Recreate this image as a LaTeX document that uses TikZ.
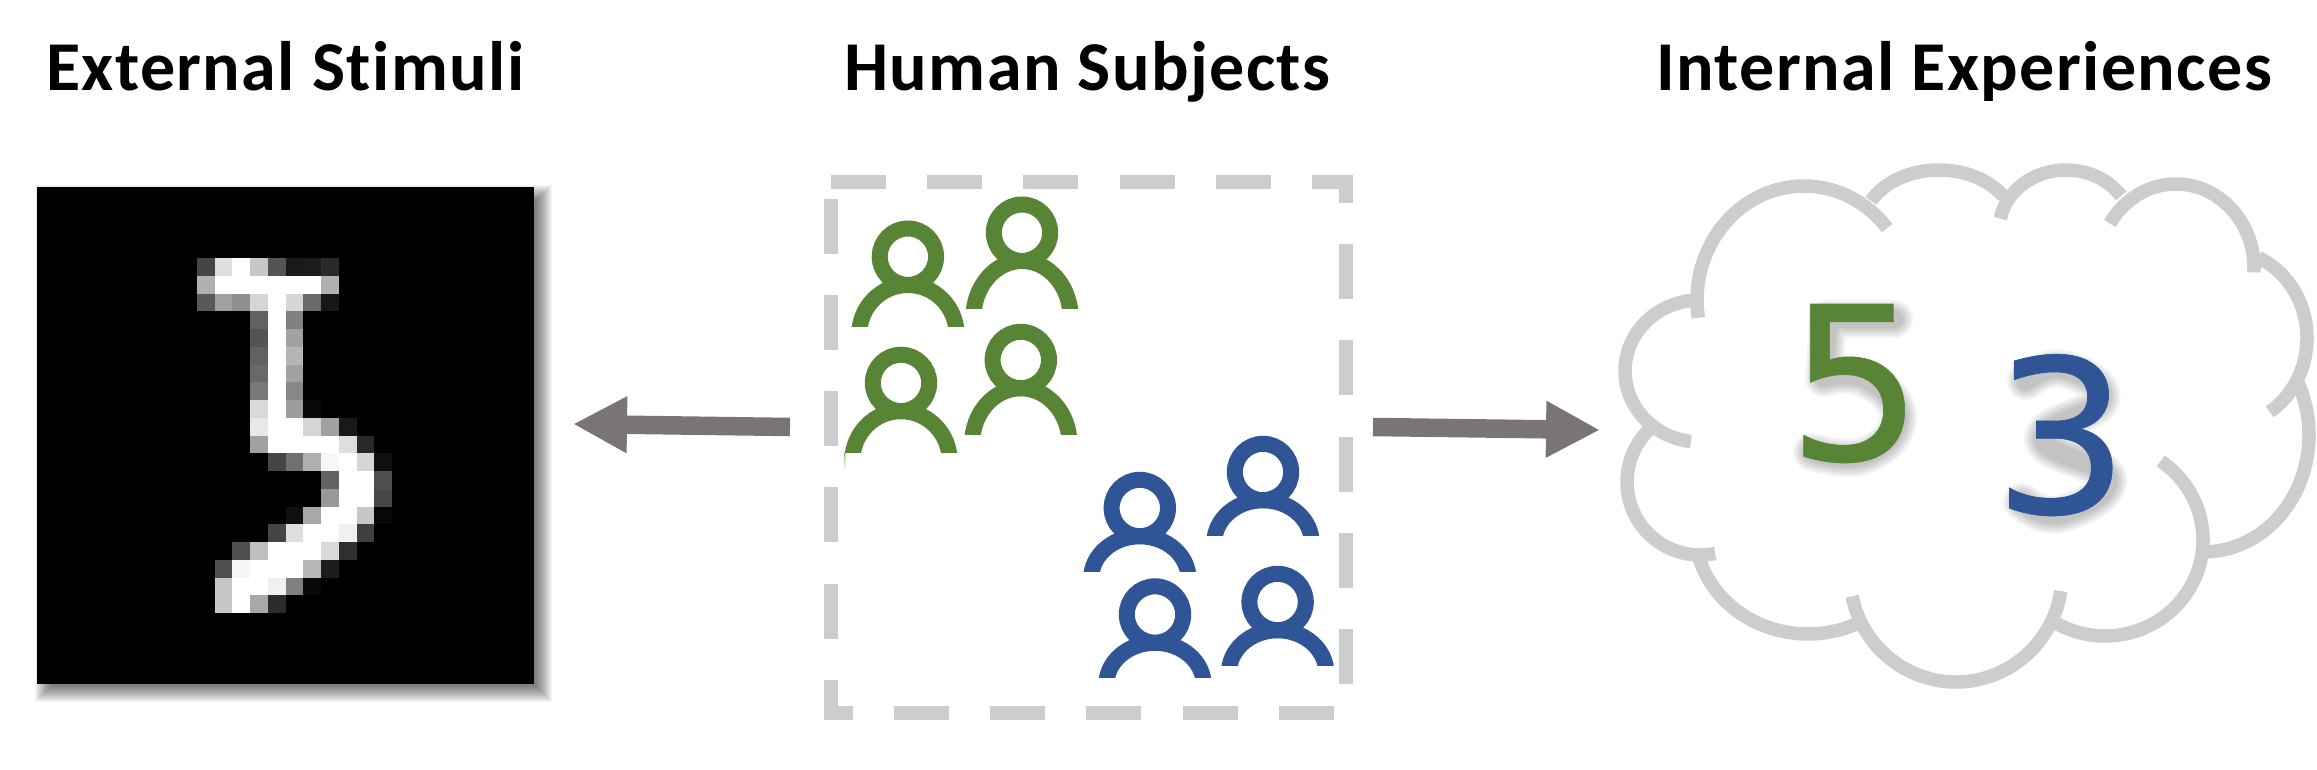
\documentclass[tikz,border=0pt]{standalone}
\usepackage{fontspec}
\setmainfont{Carlito}
\newfontfamily\titlefont[BoldFont=Carlito Bold,LetterSpace=2.0,Ligatures=NoCommon]{Carlito}
\newfontfamily\digitfont[FakeBold=0.3]{DejaVu Sans}
\usetikzlibrary{arrows.meta}
\definecolor{linegray}{HTML}{CDCDCD}
\definecolor{arrowgray}{HTML}{7A7474}
\definecolor{pgreen}{HTML}{588435}
\definecolor{pblue}{HTML}{2F5597}
\newcommand{\personicon}[4]{% colour, head x, head y, body bottom
  \pgfmathsetmacro{\phh}{#4-#3-28.3}
  \begin{scope}
    \clip (#2-70,#3-50) rectangle (#2+70,#4);
    \draw[color=#1,line width=16pt] (#2,#4+0.2*\phh) ellipse [x radius=48.7pt,y radius=1.2*\phh pt];
  \end{scope}
  \draw[color=#1,line width=16pt] (#2,#3) circle [radius=28.2pt];
}
\newcommand{\bump}[6]{% centre x, y, radii x, y, start and end angle
  \draw[cloudarc] ({#1+#3*cos(#5)},{#2-#4*sin(#5)}) arc [start angle=#5,end angle=#6,x radius=#3pt,y radius=#4pt];
}
\tikzset{
  title/.style={font=\fontsize{70}{70}\selectfont\titlefont\bfseries,anchor=base west,inner sep=0pt},
  digit/.style={font=\fontsize{214}{214}\selectfont\digitfont,anchor=base west,inner sep=0pt},
  flow/.style={color=arrowgray,line width=18.5pt,-{Triangle[length=54pt,width=53pt]}},
  dashbox/.style={color=linegray,line width=13.5pt,dash pattern=on 55pt off 41.2pt,miter limit=10},
  cloudarc/.style={color=linegray,line width=13.5pt},
  blank/.style={inner sep=0pt,outer sep=0pt}
}
\begin{document}
\begin{tikzpicture}[x=1pt,y=-1pt]
\useasboundingbox (0,0) rectangle (2317,770);
% titles
\node[title] (t1) at (46,91) {External Stimuli};
\node[title] (t2) at (844,91) {Human Subjects};
\node[title] (t3) at (1656,91) {Internal Experiences};
% image shadow
\foreach \e in {10,9,...,-10}
  \fill[black,opacity=.04] (37+8-\e,187+8-\e) rectangle (534+8+\e,684+8+\e);
\node[blank,fill=black,minimum width=497pt,minimum height=497pt] (stimulus) at (285.5,435.5) {};
% pixels
\foreach \r/\vals in {
 4/{9/27,10/87,11/100,12/78,13/33,14/10,15/11,16/16},
 5/{9/69,10/100,11/100,12/100,13/100,14/100,15/100,16/69},
 6/{9/35,10/63,11/56,12/84,13/100,14/84,15/41,16/9},
 7/{12/38,13/100,14/50},
 8/{12/33,13/100,14/63},
 9/{12/38,13/100,14/71},
 10/{12/41,13/100,14/63},
 11/{12/47,13/100,14/53},
 12/{12/85,13/100,14/61,15/3},
 13/{12/91,13/100,14/100,15/84,16/63,17/10},
 14/{12/63,13/100,14/100,15/100,16/100,17/87,18/16},
 15/{13/27,14/44,15/69,16/97,17/100,18/84,19/6},
 16/{16/38,17/100,18/100,19/31},
 17/{16/60,17/100,18/100,19/28},
 18/{14/6,15/66,16/100,17/100,18/78,19/3},
 19/{13/27,14/87,15/100,16/100,17/94,18/25},
 20/{11/31,12/75,13/100,14/100,15/100,16/85,17/19},
 21/{10/31,11/96,12/100,13/100,14/100,15/72,16/11},
 22/{10/78,11/100,12/100,13/94,14/50,15/3},
 23/{10/78,11/100,12/66,13/17}}
{
  \foreach \c/\v in \vals {
    \fill[white!\v!black] (37+\c*17.75,187+\r*17.75) rectangle ++(17.9,17.9);
  }
}
% subjects box
\node[blank,minimum width=515pt,minimum height=531pt] (subjects) at (1088.5,447.5) {};
\draw[dashbox] (subjects.north west) -- (subjects.north east) -- (subjects.south east) -- (subjects.south west) -- cycle;
% people
\personicon{pgreen}{907.9}{256.7}{326.2}
\personicon{pgreen}{1022}{232.7}{308.7}
\personicon{pgreen}{901}{382.9}{452.7}
\personicon{pgreen}{1020.8}{360}{434.5}
\personicon{pblue}{1139.8}{508}{571.6}
\personicon{pblue}{1263}{472}{535.6}
\personicon{pblue}{1155}{614.5}{677.8}
\personicon{pblue}{1277.6}{602}{665.8}
\fill[pgreen] (844.4,452.7) -- (845.4,452.7) -- (844.9,471) -- cycle;
% arrows
\coordinate (ltail) at (790,427);
\coordinate (lhead) at (573,424);
\coordinate (rtail) at (1373,427);
\coordinate (rhead) at (1600,430);
\draw[flow] (ltail) -- (lhead);
\draw[flow] (rtail) -- (rhead);
% cloud
\bump{1804}{300}{107}{114}{189}{39}
\bump{1700}{371}{75}{71}{92}{263}
\bump{1700}{482}{73}{73}{130}{282}
\bump{1808}{530}{113}{104}{194}{296}
\bump{1956}{575}{106}{107}{191.5}{351.4}
\bump{2105}{540}{98}{96}{238}{415.4}
\bump{2204}{435}{105}{116.8}{-88}{26}
\bump{2225}{338}{82}{88}{-57}{66}
\bump{2176}{268}{78}{84}{-3}{148}
\bump{2066}{230}{67}{60}{34.6}{169}
\bump{1939}{228}{77}{58}{33}{152}
% soft shadows of the digits, as drawn strokes
\foreach \w in {38,34,30,26,22,18}{
  \begin{scope}[shift={(6,7)}]
    \draw[black,opacity=.045,line width=\w pt,line cap=round,line join=round]
      plot[smooth,tension=.6] coordinates {(1888,312) (1822,312)}
      -- (1818,371)
      plot[smooth,tension=.8] coordinates {(1818,371) (1860,372) (1892,410) (1860,448) (1806,445)};
    \draw[black,opacity=.045,line width=\w pt,line cap=round,line join=round]
      plot[smooth,tension=.8] coordinates {(2020,374) (2058,362) (2095,393) (2037,432) (2102,471) (2055,507) (2016,495)};
  \end{scope}
}
\node[digit,text=pgreen] (five) at (1787,460) {5};
\node[digit,text=pblue] (three) at (1993,513) {3};
\end{tikzpicture}
\end{document}
